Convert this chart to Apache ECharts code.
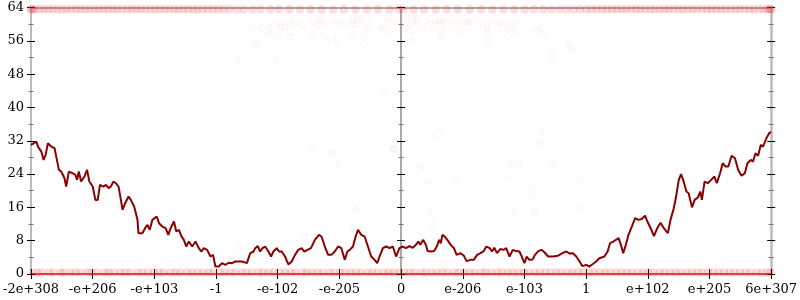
<!DOCTYPE html>
<html><head><meta charset="utf-8">
<script src="https://cdn.jsdelivr.net/npm/echarts@6/dist/echarts.min.js"></script>
<style>html,body{margin:0;padding:0;background:#fff}#c{width:800px;height:300px}</style>
</head><body><div id="c"></div>
<script>
// x tick labels at positions -6..6
const xTickLabels = ['-2e+308','-e+206','-e+103','-1','-e-102','-e-205','0','e-206','e-103','1','e+102','e+205','6e+307'];

// main line [x, y]
const lineData = [
[-6.00,31.0],[-5.914,31.8],[-5.887,30.6],[-5.833,29.4],[-5.796,27.4],[-5.764,28.6],[-5.726,31.4],[-5.672,30.6],[-5.618,30.2],[-5.591,28.2],
[-5.548,25.0],[-5.511,24.6],[-5.457,23.0],[-5.430,21.0],[-5.387,24.6],[-5.323,24.2],[-5.280,23.8],[-5.253,22.6],[-5.226,24.6],[-5.188,22.2],
[-5.134,23.4],[-5.092,25.0],[-5.054,22.2],[-5.000,21.0],[-4.957,17.8],[-4.919,17.8],[-4.882,21.4],[-4.828,21.0],[-4.785,21.4],[-4.742,20.6],
[-4.705,21.0],[-4.667,22.2],[-4.624,21.8],[-4.581,21.0],[-4.543,17.8],[-4.516,15.4],[-4.473,17.0],[-4.419,18.6],[-4.382,17.8],[-4.328,16.2],
[-4.274,13.0],[-4.258,9.8],[-4.194,9.8],[-4.151,11.0],[-4.113,11.8],[-4.075,10.6],[-4.032,13.0],[-3.962,13.8],[-3.925,12.2],[-3.871,11.4],
[-3.817,11.0],[-3.774,9.4],[-3.737,11.0],[-3.683,12.6],[-3.645,10.2],[-3.602,10.6],[-3.559,9.0],[-3.522,8.2],[-3.484,6.6],[-3.441,7.8],
[-3.387,6.6],[-3.333,7.8],[-3.280,6.2],[-3.237,5.4],[-3.199,6.2],[-3.145,5.8],[-3.091,4.2],[-3.048,4.6],[-3.011,1.8],[-2.957,1.8],
[-2.903,2.6],[-2.849,2.2],[-2.796,2.7],[-2.742,2.6],[-2.688,3.0],[-2.581,3.0],[-2.500,2.6],[-2.446,5.0],[-2.392,5.4],[-2.366,6.2],
[-2.323,6.7],[-2.285,5.4],[-2.247,6.2],[-2.204,6.6],[-2.151,5.4],[-2.108,4.2],[-2.070,5.4],[-2.016,6.2],[-1.979,5.4],[-1.935,5.4],
[-1.882,4.2],[-1.828,2.3],[-1.774,3.0],[-1.720,4.6],[-1.667,5.8],[-1.613,6.2],[-1.570,5.4],[-1.516,5.8],[-1.462,6.2],[-1.398,8.2],
[-1.333,9.4],[-1.290,9.0],[-1.237,6.6],[-1.183,4.6],[-1.129,4.6],[-1.075,5.4],[-1.022,6.6],[-0.968,6.2],[-0.914,3.4],[-0.871,5.4],
[-0.833,5.8],[-0.780,6.6],[-0.737,9.0],[-0.699,10.6],[-0.645,9.4],[-0.591,9.0],[-0.538,6.6],[-0.484,4.2],[-0.430,3.4],[-0.387,2.6],
[-0.349,4.2],[-0.296,6.2],[-0.242,6.6],[-0.188,6.2],[-0.134,6.6],[-0.081,4.2],[-0.027,6.2],
[0.027,6.6],[0.080,6.2],[0.134,6.7],[0.188,6.3],[0.241,7.0],[0.279,7.8],[0.311,7.0],[0.359,8.2],[0.402,7.0],[0.429,5.5],
[0.482,5.4],[0.536,5.5],[0.579,6.6],[0.616,8.2],[0.643,7.4],[0.670,9.4],[0.707,9.0],[0.750,8.2],[0.804,7.0],[0.857,6.2],
[0.900,4.6],[0.965,5.0],[1.018,4.4],[1.061,3.1],[1.125,3.4],[1.179,3.4],[1.233,4.6],[1.286,5.0],[1.340,5.5],[1.383,6.6],
[1.436,6.2],[1.474,5.4],[1.511,6.3],[1.554,5.0],[1.608,6.0],[1.661,5.8],[1.704,6.2],[1.758,4.2],[1.811,5.8],[1.865,5.5],
[1.919,5.4],[1.956,4.2],[1.999,2.6],[2.036,4.2],[2.079,3.4],[2.133,3.5],[2.170,4.6],[2.224,5.5],[2.278,5.8],[2.331,5.1],
[2.385,4.2],[2.465,4.2],[2.546,4.4],[2.615,5.0],[2.680,5.4],[2.733,4.9],[2.787,5.0],[2.840,4.2],[2.894,3.0],[2.937,1.9],
[3.001,2.2],[3.055,1.8],[3.108,2.4],[3.162,3.0],[3.215,3.8],[3.296,4.2],[3.349,5.4],[3.387,7.4],[3.441,7.8],[3.483,8.2],
[3.526,8.6],[3.564,7.0],[3.601,5.0],[3.644,7.0],[3.687,9.4],[3.741,11.4],[3.794,13.4],[3.848,13.0],[3.901,13.2],[3.955,14.0],
[3.993,12.6],[4.046,11.0],[4.100,9.1],[4.153,11.0],[4.207,12.3],[4.260,11.0],[4.325,9.8],[4.368,13.0],[4.421,15.8],[4.459,18.6],
[4.502,22.6],[4.539,24.0],[4.582,22.2],[4.625,19.8],[4.662,19.4],[4.716,16.0],[4.759,17.8],[4.812,18.4],[4.850,19.8],[4.877,17.8],
[4.920,22.2],[4.973,21.8],[5.027,22.6],[5.080,23.4],[5.118,21.8],[5.172,24.2],[5.214,26.6],[5.263,25.8],[5.305,25.8],[5.359,28.4],
[5.413,27.8],[5.466,25.0],[5.520,23.6],[5.573,24.2],[5.616,26.6],[5.670,27.4],[5.707,27.0],[5.745,29.0],[5.788,28.4],[5.831,31.0],
[5.868,30.6],[5.922,32.6],[5.975,34.0],[6.00,34.0]
];

// x positions of the dense sample band at the bottom (y ~ 0)
const bottomBandX = [-5.98,-5.9,-5.83,-5.71,-5.64,-5.52,-5.47,-5.36,-5.28,-5.19,-5.08,-5.02,-4.93,-4.81,-4.74,-4.66,-4.55,-4.47,-4.39,-4.27,-4.2,-4.11,-4.01,-3.92,-3.85,-3.74,-3.66,-3.58,-3.47,-3.39,-3.3,-3.21,-3.12,-3.05,-2.94,-2.86,-2.77,-2.69,-2.58,-2.51,-2.42,-2.31,-2.24,-2.15,-2.06,-1.97,-1.88,-1.79,-1.71,-1.6,-1.53,-1.44,-1.35,-1.27,-1.16,-1.09,-0.99,-0.91,-0.82,-0.73,-0.65,-0.54,-0.47,-0.38,-0.29,-0.2,-0.12,-0.03,0.05,0.14,0.22,0.33,0.4,0.49,0.58,0.67,0.75,0.86,0.93,1.02,1.11,1.19,1.3,1.37,1.46,1.56,1.63,1.73,1.81,1.9,1.99,2.07,2.17,2.25,2.34,2.43,2.52,2.6,2.7,2.78,2.87,2.95,3.05,3.13,3.22,3.31,3.39,3.49,3.57,3.66,3.74,3.84,3.92,4.01,4.09,4.19,4.27,4.36,4.45,4.53,4.63,4.71,4.8,4.88,4.98,5.06,5.15,5.24,5.33,5.41,5.5,5.59,5.67,5.77,5.85,5.94,5.99];
const bottomBandY = 0.35;

// x positions of the dense sample band at the top (y ~ 64)
const topBandX = [-6.0,-5.99,-5.97,-5.93,-5.86,-5.79,-5.72,-5.65,-5.57,-5.5,-5.43,-5.35,-5.27,-5.2,-5.12,-5.05,-4.97,-4.9,-4.82,-4.75,-4.67,-4.6,-4.52,-4.44,-4.37,-4.29,-4.22,-4.14,-4.06,-3.99,-3.91,-3.83,-3.76,-3.68,-3.61,-3.53,-3.45,-3.37,-3.3,-3.22,-3.14,-3.05,-2.97,-2.88,-2.78,-2.66,-2.55,-2.41,-2.28,-2.12,-1.98,-1.81,-1.64,-1.47,-1.29,-1.1,-0.93,-0.74,-0.55,-0.38,-0.19,-0.04,0.03,0.2,0.37,0.56,0.74,0.92,1.11,1.3,1.48,1.66,1.83,2.0,2.15,2.3,2.43,2.56,2.68,2.79,2.9,3.0,3.09,3.17,3.26,3.34,3.42,3.5,3.58,3.65,3.73,3.81,3.88,3.96,4.04,4.11,4.19,4.27,4.34,4.42,4.5,4.57,4.65,4.73,4.8,4.88,4.96,5.03,5.11,5.19,5.26,5.34,5.42,5.49,5.57,5.65,5.72,5.8,5.87,5.93,5.97,5.99,6.0];
const topBandY = 63.6;

// scattered individual samples [x, y]
const scatterData = [
[-2.42,58.9],[-2.35,55.3],[-2.26,59.1],[-2.13,59.1],[-2.13,57.7],[-2.00,59.9],[-1.95,59.4],[-1.88,59.4],[-1.98,57.3],[-2.00,51.0],
[-2.65,51.0],[-1.80,60.3],[-1.72,60.3],[-1.60,59.5],[-1.80,57.0],[-1.45,57.0],[-1.43,60.5],[-1.37,59.4],[-1.34,60.9],[-1.28,60.9],
[-1.23,59.9],[-1.21,55.9],[-1.26,57.5],[-1.11,60.9],[-1.04,59.9],[-1.04,56.5],[-0.92,60.1],[-0.78,60.9],[-0.71,61.3],[-0.62,60.9],
[-0.78,59.9],[-0.73,59.7],[-0.60,58.7],[-0.78,57.5],[-0.61,56.7],[-0.52,59.5],[-0.33,58.9],[-0.29,59.5],[-0.22,61.3],[-0.20,60.7],
[-0.08,60.6],[-0.18,58.3],[-0.29,43.1],
[0.10,61.8],[0.18,61.8],[0.25,61.8],[0.07,60.3],[0.18,60.2],[0.26,60.5],[0.07,59.1],[0.14,58.3],[0.34,59.1],[0.41,60.7],
[0.47,60.2],[0.53,58.7],[0.55,60.7],[0.61,60.7],[0.66,60.3],[0.69,60.7],[0.66,58.7],[0.66,57.0],[0.80,61.0],[0.89,59.9],
[0.96,58.3],[1.00,60.2],[1.06,60.5],[1.12,60.5],[1.23,61.0],[0.18,55.9],[1.33,59.7],[1.39,59.1],[1.41,58.1],[1.47,60.7],
[1.41,55.7],[1.60,60.3],[1.65,59.9],[1.73,58.6],[1.79,59.7],[1.88,60.2],[1.86,58.2],[2.21,58.6],[2.27,59.1],[2.32,57.7],
[2.72,55.3],[2.77,54.1],[2.45,52.7],[2.44,50.9],
[-0.12,30.0],[0.54,33.2],[0.65,34.5],[0.33,25.8],[0.42,22.1],[0.09,21.8],[0.46,14.8],[0.51,11.7],[0.69,2.1],[0.90,22.5],
[1.69,23.8],[1.78,26.2],[1.91,26.7],[1.84,14.9],[1.84,2.4],[2.13,20.6],[2.13,18.8],[2.16,15.2],[2.27,34.2],[2.27,31.7],
[2.48,26.8],[2.91,22.6],[2.87,16.0],[-1.43,30.0],[-1.13,28.9],[-1.02,26.1],[-0.13,30.0],[-0.74,15.4],[-0.78,11.0],[-1.56,8.8],
[-2.62,6.2]
];

const chart = echarts.init(document.getElementById('c'), null, {renderer: 'canvas'});
const FONT = 'DejaVu Serif';
const grid = {left: 27.5, right: 26, top: 7.5, bottom: 26};

function yAx(extra) {
  return Object.assign({
    type: 'value', min: 0, max: 64, interval: 8,
    splitLine: {show: false},
    axisLabel: {show: false},
    axisLine: {show: false, onZero: false},
    axisTick: {show: true, length: 4, lineStyle: {color: '#000', width: 1}},
    minorTick: {show: true, splitNumber: 2, length: 2.5, lineStyle: {color: '#777', width: 1}}
  }, extra);
}
function xAx(extra) {
  return Object.assign({
    type: 'value', min: -6, max: 6, interval: 1,
    splitLine: {show: false},
    axisLabel: {show: false},
    axisLine: {show: false, onZero: false},
    axisTick: {show: true, length: 5, lineStyle: {color: '#000', width: 1}}
  }, extra);
}

const bandStyle = {color: 'rgba(245,50,50,0.2)', borderColor: 'rgba(230,30,30,0.07)', borderWidth: 1};

const option = {
  animation: false,
  backgroundColor: '#fff',
  grid: grid,
  xAxis: [
    xAx({position: 'bottom',
      axisLine: {show: true, onZero: false, lineStyle: {color: 'rgba(215,35,35,0.85)', width: 2}},
      axisLabel: {show: true, margin: 9, color: '#000', fontFamily: FONT, fontSize: 13,
        formatter: v => xTickLabels[Math.round(v) + 6]}}),
    xAx({position: 'bottom', axisTick: {show: true, inside: true, length: 5, lineStyle: {color: '#000', width: 1}}}),
    xAx({position: 'top', axisTick: {show: false},
      axisLine: {show: true, onZero: false, lineStyle: {color: '#aaa', width: 2}}})
  ],
  yAxis: [
    yAx({position: 'left',
      axisLine: {show: true, onZero: false, lineStyle: {color: '#bbb', width: 2}},
      axisLabel: {show: true, margin: 7, color: '#000', fontFamily: FONT, fontSize: 13}}),
    yAx({position: 'left', axisTick: {show: true, inside: true, length: 4, lineStyle: {color: '#000'}},
      minorTick: {show: true, splitNumber: 2, length: 2.5, lineStyle: {color: '#777'}}}),
    yAx({position: 'left',
      axisLine: {show: true, onZero: true, onZeroAxisIndex: 0, lineStyle: {color: '#aaa', width: 2}}}),
    yAx({position: 'left', axisLine: {show: false, onZero: true, onZeroAxisIndex: 0},
      axisTick: {show: true, inside: true, length: 4, lineStyle: {color: '#000'}},
      minorTick: {show: true, splitNumber: 2, length: 2.5, lineStyle: {color: '#777'}}}),
    yAx({position: 'right',
      axisLine: {show: true, onZero: false, lineStyle: {color: '#bbb', width: 2.5}}}),
    yAx({position: 'right', axisTick: {show: true, inside: true, length: 4, lineStyle: {color: '#000'}},
      minorTick: {show: true, splitNumber: 2, length: 2.5, lineStyle: {color: '#777'}}})
  ],
  series: [
    {type: 'scatter', xAxisIndex: 0, yAxisIndex: 0, symbol: 'circle', symbolSize: 8,
      data: bottomBandX.map(x => [x, bottomBandY]),
      itemStyle: bandStyle, silent: true, z: 1},
    {type: 'scatter', xAxisIndex: 0, yAxisIndex: 0, symbol: 'circle', symbolSize: 8,
      data: topBandX.map(x => [x, topBandY]),
      itemStyle: bandStyle, silent: true, z: 1},
    {type: 'scatter', xAxisIndex: 0, yAxisIndex: 0, symbol: 'circle', symbolSize: 6,
      data: scatterData,
      itemStyle: {color: 'rgba(255,80,80,0.02)', borderColor: 'rgba(245,70,70,0.07)', borderWidth: 1}, silent: true, z: 1},
    {type: 'line', xAxisIndex: 0, yAxisIndex: 0, data: lineData, showSymbol: false, symbol: 'none',
      lineStyle: {color: '#8b0000', width: 2}, z: 5, silent: true}
  ]
};
chart.setOption(option);
</script>
</body></html>
